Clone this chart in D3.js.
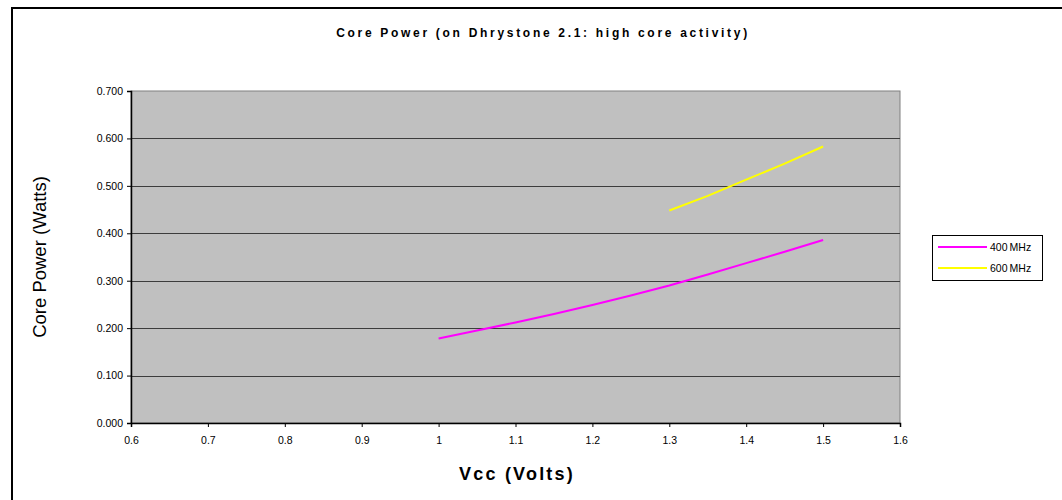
<!DOCTYPE html>
<html>
<head>
<meta charset="utf-8">
<script src="https://cdn.jsdelivr.net/npm/d3@7"></script>
<style>
  body { margin: 0; background: #fff; }
  svg { font-family: "Liberation Sans", Arial, sans-serif; display: block; }
</style>
</head>
<body>
<svg width="1062" height="500"></svg>
<script>
const xTicks = [0.6, 0.7, 0.8, 0.9, 1, 1.1, 1.2, 1.3, 1.4, 1.5, 1.6];
const yTicks = [0, 0.1, 0.2, 0.3, 0.4, 0.5, 0.6, 0.7];

// 400 MHz series
const vcc400 = [1.0, 1.05, 1.1, 1.15, 1.2, 1.25, 1.3, 1.35, 1.4, 1.45, 1.5];
const power400 = [0.178, 0.195, 0.212, 0.230, 0.249, 0.269, 0.290, 0.313, 0.337, 0.361, 0.386];

// 600 MHz series
const vcc600 = [1.3, 1.35, 1.4, 1.45, 1.5];
const power600 = [0.448, 0.479, 0.513, 0.547, 0.583];

const seriesNames = ["400MHz", "600MHz"];
const seriesColors = ["#ff00ff", "#ffff00"];

const svg = d3.select("svg");
const margin = { top: 91, left: 131, right: 162, bottom: 77 };
const width = +svg.attr("width");
const height = +svg.attr("height");
const innerWidth = width - margin.left - margin.right;
const innerHeight = height - margin.top - margin.bottom;

// outer frame (only left and top edges are visible)
svg.append("path")
  .attr("d", `M12,${height} V8 H${width}`)
  .attr("fill", "none").attr("stroke", "#000").attr("stroke-width", 2);

const xScale = d3.scaleLinear().domain([0.6, 1.6]).range([0, innerWidth]);
const yScale = d3.scaleLinear().domain([0, 0.7]).range([innerHeight, 0]);

const g = svg.append("g").attr("transform", `translate(${margin.left}, ${margin.top})`);

// plot area
g.append("rect")
  .attr("width", innerWidth).attr("height", innerHeight)
  .attr("fill", "#c0c0c0").attr("stroke", "#808080").attr("stroke-width", 1);

// gridlines
g.selectAll(".grid")
  .data(yTicks.filter((d) => d > 0 && d < 0.7))
  .enter().append("line")
  .attr("x1", 0).attr("x2", innerWidth)
  .attr("y1", (d) => Math.round(yScale(d)) + 0.5)
  .attr("y2", (d) => Math.round(yScale(d)) + 0.5)
  .attr("stroke", "#3c3c3c").attr("stroke-width", 1.2);

const yAxis = d3.axisLeft(yScale).tickValues(yTicks).tickFormat(d3.format(".3f")).tickSize(4).tickPadding(4);
const yAxisG = g.append("g").call(yAxis);
const xAxis = d3.axisBottom(xScale).tickValues(xTicks).tickFormat((d) => d3.format("")(+d.toFixed(1))).tickSize(4).tickPadding(10);
const xAxisG = g.append("g").attr("transform", `translate(0, ${innerHeight})`).call(xAxis);

[yAxisG, xAxisG].forEach((a) => {
  a.attr("font-size", 10.5).attr("font-family", "Liberation Sans, Arial, sans-serif");
  a.select(".domain").attr("stroke", "#000").attr("stroke-width", 1.5);
  a.selectAll(".tick line").attr("stroke", "#000");
  a.selectAll("text").attr("fill", "#000");
});

// lines
const line = d3.line().x((d) => xScale(d[0])).y((d) => yScale(d[1]));
const lineData = [
  d3.zip(vcc400, power400),
  d3.zip(vcc600, power600)
];
g.selectAll(".series")
  .data(lineData)
  .enter().append("path")
  .attr("d", (d) => line(d))
  .attr("fill", "none")
  .attr("stroke", (d, i) => seriesColors[i])
  .attr("stroke-width", 2);

// title
svg.append("text")
  .attr("x", 543).attr("y", 37)
  .attr("text-anchor", "middle")
  .attr("font-size", 12).attr("font-weight", "bold")
  .attr("letter-spacing", 2.7)
  .text("Core Power (on Dhrystone 2.1: high core activity)");

// axis labels
svg.append("text")
  .attr("transform", `translate(46, ${margin.top + innerHeight / 2}) rotate(-90)`)
  .attr("text-anchor", "middle")
  .attr("font-size", 18.5)
  .text("Core Power (Watts)");

svg.append("text")
  .attr("x", 517).attr("y", 480)
  .attr("text-anchor", "middle")
  .attr("font-size", 18).attr("font-weight", "bold")
  .attr("letter-spacing", 2.2)
  .text("Vcc (Volts)");

// legend
const legend = svg.append("g").attr("transform", "translate(932, 235)");
legend.append("rect")
  .attr("x", 0.5).attr("y", 0.5).attr("width", 110).attr("height", 45)
  .attr("fill", "#fff").attr("stroke", "#000");
seriesNames.forEach((name, i) => {
  legend.append("line")
    .attr("x1", 6).attr("x2", 55)
    .attr("y1", 12 + i * 21).attr("y2", 12 + i * 21)
    .attr("stroke", seriesColors[i]).attr("stroke-width", 2);
  legend.append("text")
    .attr("x", 58).attr("y", 16 + i * 21)
    .attr("font-size", 10.5)
    .text(name.replace("MHz", "\u2009MHz"));
});
</script>
</body>
</html>
